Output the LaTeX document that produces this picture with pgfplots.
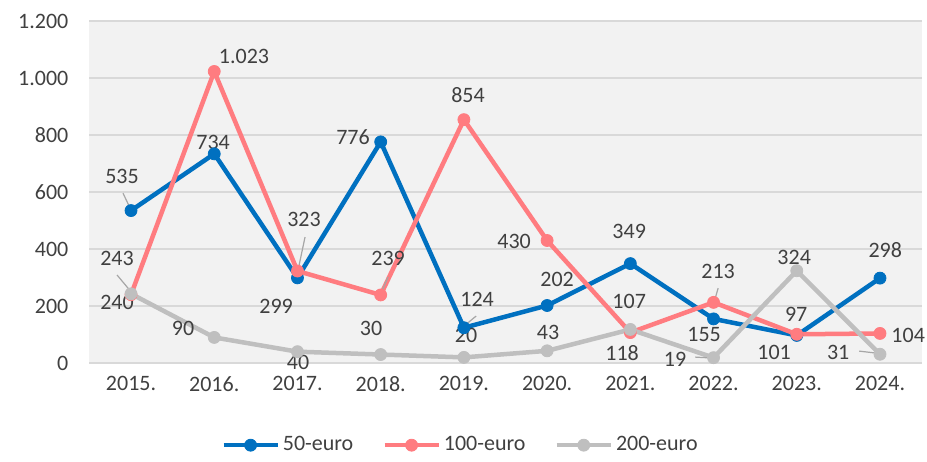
\documentclass[border=0pt]{standalone}
\usepackage{fontspec}
\setmainfont{Carlito}
\usepackage{pgfplots}
\pgfplotsset{compat=1.18}
\definecolor{cblue}{HTML}{0070C0}
\definecolor{cpink}{HTML}{FF7C80}
\definecolor{cgray}{HTML}{BFBFBF}
\definecolor{ctext}{HTML}{404040}
\definecolor{cgrid}{HTML}{D9D9D9}
\definecolor{cbg}{HTML}{F2F2F2}
\definecolor{clead}{HTML}{A6A6A6}
\begin{document}
\begin{tikzpicture}[font=\fontsize{11}{13}\selectfont]
\begin{axis}[
  name=ax, scale only axis, width=416pt, height=171pt,
  xmin=-0.5, xmax=9.5, ymin=0, ymax=1200,
  xtick={0,1,2,3,4,5,6,7,8,9},
  xticklabels={2015.,2016.,2017.,2018.,2019.,2020.,2021.,2022.,2023.,2024.},
  ytick={0,200,400,600,800,1000,1200},
  axis background/.style={fill=cbg},
  axis line style={draw=none}, major tick length=0pt,
  ymajorgrids, grid style={cgrid, line width=0.75pt},
  tick label style={text=ctext, font=\fontsize{11}{13}\selectfont},
  yticklabel style={/pgf/number format/1000 sep={.}, /pgf/number format/assume math mode=true, xshift=-7pt},
  xticklabel style={yshift=-3pt},
  clip=false,
  legend columns=3,
  legend cell align=left,
  legend style={draw=none, fill=none, at={(0.4465,-0.24)}, anchor=center,
    text=ctext, font=\fontsize{11}{13}\selectfont, nodes={inner xsep=1.5pt},
    /tikz/every even column/.append style={column sep=13pt}},
  legend image code/.code={\draw[mark repeat=2,mark phase=2,#1] plot coordinates {(0pt,0pt) (13.5pt,0pt) (27pt,0pt)};},
  every axis plot/.append style={line width=2.25pt, mark=*, mark size=3pt},
]
\addplot[cblue, mark options={fill=cblue, draw=cblue, line width=0.4pt, solid}]
  coordinates {(0,535) (1,734) (2,299) (3,776) (4,124) (5,202) (6,349) (7,155) (8,97) (9,298)};
\addlegendentry{50-euro}
\addplot[cpink, mark options={fill=cpink, draw=cpink, line width=0.4pt, solid}]
  coordinates {(0,240) (1,1023) (2,323) (3,239) (4,854) (5,430) (6,107) (7,213) (8,101) (9,104)};
\addlegendentry{100-euro}
\addplot[cgray, mark options={fill=cgray, draw=cgray, line width=0.4pt, solid}]
  coordinates {(0,243) (1,90) (2,40) (3,30) (4,20) (5,43) (6,118) (7,19) (8,324) (9,31)};
\addlegendentry{200-euro}
% leader lines
\draw[clead, line width=0.6pt] (axis cs:-0.096,596) -- (axis cs:-0.012,544);
\draw[clead, line width=0.6pt] (axis cs:-0.168,309) -- (axis cs:0.012,246);
\draw[clead, line width=0.6pt] (axis cs:2.091,442) -- (axis cs:2.007,326);
\draw[clead, line width=0.6pt] (axis cs:3.089,302) -- (axis cs:3.005,246);
\draw[clead, line width=0.6pt] (axis cs:4.147,165) -- (axis cs:4.014,133);
\draw[clead, line width=0.6pt] (axis cs:7.055,263) -- (axis cs:7.007,214);
\draw[clead, line width=0.6pt] (axis cs:6.779,21) -- (axis cs:6.959,18);
\draw[clead, line width=0.6pt] (axis cs:8.750,42) -- (axis cs:8.954,35);
% data labels
\begin{scope}[every node/.style={text=ctext, inner sep=0pt}]
\node at (axis cs:-0.108,656) {535};
\node at (axis cs:0.986,775) {734};
\node at (axis cs:1.358,1077) {1.023};
\node at (axis cs:-0.168,368) {243};
\node at (axis cs:-0.168,214) {240};
\node at (axis cs:0.625,123) {90};
\node at (axis cs:1.743,200) {299};
\node at (axis cs:2.079,505) {323};
\node at (axis cs:2.007,3) {40};
\node at (axis cs:2.668,793) {776};
\node at (axis cs:3.089,368) {239};
\node at (axis cs:2.885,123) {30};
\node at (axis cs:4.050,940) {854};
\node at (axis cs:4.159,225) {124};
\node at (axis cs:4.026,98) {20};
\node at (axis cs:4.603,428) {430};
\node at (axis cs:5.120,295) {202};
\node at (axis cs:5.012,109) {43};
\node at (axis cs:5.986,463) {349};
\node at (axis cs:5.986,218) {107};
\node at (axis cs:5.901,35) {118};
\node at (axis cs:7.055,323) {213};
\node at (axis cs:6.887,102) {155};
\node at (axis cs:6.538,14) {19};
\node at (axis cs:7.969,372) {324};
\node at (axis cs:7.993,172) {97};
\node at (axis cs:7.728,39) {101};
\node at (axis cs:8.498,39) {31};
\node at (axis cs:9.063,397) {298};
\node at (axis cs:9.339,98) {104};
\end{scope}
\end{axis}
\path ([shift={(-44.7pt,-47pt)}]ax.south west) rectangle ([shift={(2.7pt,10.5pt)}]ax.north east);
\end{tikzpicture}
\end{document}
